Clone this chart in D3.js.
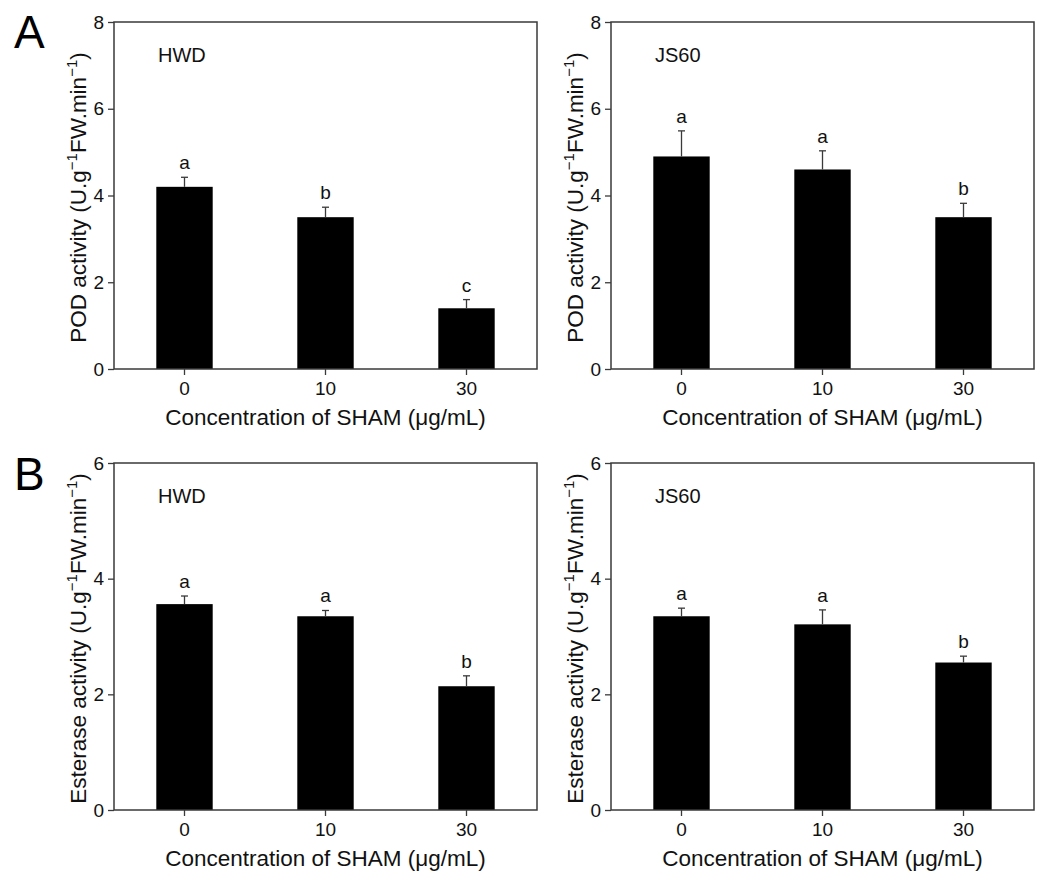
<!DOCTYPE html>
<html>
<head>
<meta charset="utf-8">
<script src="https://cdn.jsdelivr.net/npm/d3@7"></script>
<style>
  body { margin: 0; background: #fff; }
  svg { font-family: "Liberation Sans", Arial, sans-serif; }
</style>
</head>
<body>
<div id="chart"></div>
<script>
// Categories and tick labels
const concentrations = ["0", "10", "30"];
const podTicks = [0, 2, 4, 6, 8];
const estTicks = [0, 2, 4, 6];

// Series values (means and standard errors)
const podHWD = [4.2, 3.5, 1.4];
const podHWDErr = [0.22, 0.23, 0.2];
const podHWDSig = ["a", "b", "c"];

const podJS60 = [4.9, 4.6, 3.5];
const podJS60Err = [0.59, 0.43, 0.32];
const podJS60Sig = ["a", "a", "b"];

const estHWD = [3.56, 3.35, 2.14];
const estHWDErr = [0.14, 0.1, 0.18];
const estHWDSig = ["a", "a", "b"];

const estJS60 = [3.35, 3.21, 2.55];
const estJS60Err = [0.14, 0.25, 0.11];
const estJS60Sig = ["a", "a", "b"];

const width = 1045;
const height = 876;
const plotW = 423;
const plotH = 347;
const axisColor = "#3a3a3a";

const svg = d3
  .select("#chart")
  .append("svg")
  .attr("width", width)
  .attr("height", height);

const panels = [
  { x: 114, y: 22, name: "HWD", values: podHWD, errs: podHWDErr, sig: podHWDSig, max: 8, ticks: podTicks, measure: "POD activity" },
  { x: 611, y: 22, name: "JS60", values: podJS60, errs: podJS60Err, sig: podJS60Sig, max: 8, ticks: podTicks, measure: "POD activity" },
  { x: 114, y: 463, name: "HWD", values: estHWD, errs: estHWDErr, sig: estHWDSig, max: 6, ticks: estTicks, measure: "Esterase activity" },
  { x: 611, y: 463, name: "JS60", values: estJS60, errs: estJS60Err, sig: estJS60Sig, max: 6, ticks: estTicks, measure: "Esterase activity" },
];

function drawPanel(p) {
  const g = svg.append("g").attr("transform", `translate(${p.x},${p.y})`);

  const x = d3.scaleBand().domain(concentrations).range([0, plotW]).paddingInner(0.6).paddingOuter(0.3);
  const y = d3.scaleLinear().domain([0, p.max]).range([plotH, 0]);

  // Bars
  g.selectAll(".bar")
    .data(p.values)
    .join("rect")
    .attr("x", (d, i) => x(concentrations[i]))
    .attr("y", (d) => y(d))
    .attr("width", x.bandwidth())
    .attr("height", (d) => plotH - y(d))
    .attr("fill", "#000");

  // Error bars (upper only) and significance letters
  const cx = (i) => x(concentrations[i]) + x.bandwidth() / 2;
  p.values.forEach((v, i) => {
    const top = y(v + p.errs[i]);
    g.append("line")
      .attr("x1", cx(i)).attr("x2", cx(i))
      .attr("y1", y(v)).attr("y2", top)
      .attr("stroke", axisColor).attr("stroke-width", 1.3);
    g.append("line")
      .attr("x1", cx(i) - 3.5).attr("x2", cx(i) + 3.5)
      .attr("y1", top).attr("y2", top)
      .attr("stroke", axisColor).attr("stroke-width", 1.3);
    g.append("text")
      .attr("x", cx(i))
      .attr("y", top - 8)
      .attr("text-anchor", "middle")
      .attr("font-size", 19)
      .attr("fill", "#111")
      .text(p.sig[i]);
  });

  // Axes
  const yAxis = g.append("g").call(d3.axisLeft(y).tickValues(p.ticks).tickSize(6).tickPadding(4).tickFormat(d3.format("d")));
  const xAxis = g.append("g").attr("transform", `translate(0,${plotH})`).call(d3.axisBottom(x).tickSize(6).tickPadding(7));
  [yAxis, xAxis].forEach((a) => {
    a.select(".domain").remove();
    a.selectAll("line").attr("stroke", axisColor).attr("stroke-width", 1.3);
    a.selectAll("text").attr("font-size", 19).attr("fill", "#111").attr("font-family", "Liberation Sans, Arial, sans-serif");
  });

  // Frame
  g.append("rect")
    .attr("width", plotW)
    .attr("height", plotH)
    .attr("fill", "none")
    .attr("stroke", axisColor)
    .attr("stroke-width", 1.5);

  // Cultivar label
  g.append("text")
    .attr("x", 44)
    .attr("y", 40)
    .attr("font-size", 20)
    .attr("fill", "#111")
    .text(p.name);

  // X title
  g.append("text")
    .attr("x", plotW / 2)
    .attr("y", plotH + 56)
    .attr("text-anchor", "middle")
    .attr("font-size", 22.5)
    .attr("fill", "#111")
    .text("Concentration of SHAM (μg/mL)");

  // Y title with superscripts
  const yt = g.append("text")
    .attr("transform", `translate(-28,${plotH / 2 + 2}) rotate(-90)`)
    .attr("text-anchor", "middle")
    .attr("font-size", 22.5)
    .attr("fill", "#111");
  yt.append("tspan").text(`${p.measure} (U.g`);
  yt.append("tspan").attr("dy", -9).attr("font-size", 15).text("−1");
  yt.append("tspan").attr("dy", 9).text("FW.min");
  yt.append("tspan").attr("dy", -9).attr("font-size", 15).text("−1");
  yt.append("tspan").attr("dy", 9).text(")");
}

panels.forEach(drawPanel);

// Panel letters
svg.append("text").attr("x", 14).attr("y", 48).attr("font-size", 46).attr("fill", "#000").text("A");
svg.append("text").attr("x", 14).attr("y", 490).attr("font-size", 46).attr("fill", "#000").text("B");
</script>
</body>
</html>
